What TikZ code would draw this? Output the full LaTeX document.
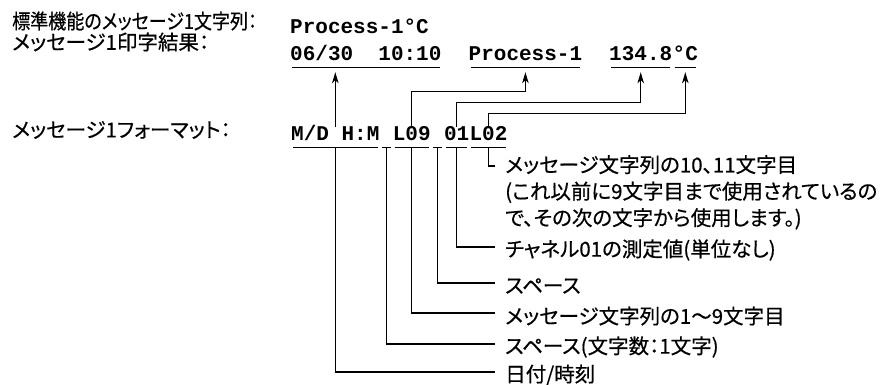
\documentclass[tikz,border=0pt]{standalone}
\usepackage{fontspec}
\setmonofont{Liberation Mono}
\newfontfamily\jpfont[RawFeature=+palt, FakeBold=0.5]{Noto Sans CJK JP}
\usetikzlibrary{arrows.meta, positioning, calc}

\begin{document}
\begin{tikzpicture}[
    x=1pt, y=-1pt,
    jp/.style={font=\jpfont\fontsize{20.5}{26.5}\selectfont, inner sep=0pt, anchor=west, align=left},
    code/.style={font=\ttfamily\bfseries\fontsize{21}{21}\selectfont, inner sep=0pt, anchor=base west, text height=13pt, text depth=7pt},
    uline/.style={line width=1.3pt},
    lnk/.style={line width=1.1pt},
    arr/.style={lnk, -{Stealth[length=11pt, width=6.5pt, inset=3pt]}, shorten >=5pt},
    >=Stealth
]
\useasboundingbox (0,0) rectangle (890,384);

% captions on the left
\node[jp] (ttlstd) at (12,21) {\scalebox{0.88}[1]{標準機能のメッセージ1文字列：}};
\node[jp] (ttlout) at (12,42) {メッセージ1印字結果：};
\node[jp] (ttlfmt) at (12,130) {メッセージ1フォーマット：};

% standard string and printed result
\node[code] (std) at (290,33) {Process-1°C};
\node[code] (date) at (290,60) {06/30~~10:10};
\node[code] (proc) at (468.5,60) {Process-1};
\node[code] (num) at (609,60) {134.8};
\node[code] (degc) at (672.5,60) {°C};

% format string
\node[code] (mdhm) at (291,140) {M/D H:M};
\node[code, right=0pt of mdhm] (spa) {\phantom{0}};
\node[code, right=0pt of spa] (l09) {L09};
\node[code, right=0pt of l09] (spb) {\phantom{0}};
\node[code, right=0pt of spb] (n01) {01};
\node[code, right=0pt of n01] (l02) {L02};

\foreach \n in {date, proc, num, degc, mdhm, spa, l09, spb, n01, l02}
    \draw[uline] ([xshift=2pt]\n.south west) -- ([xshift=-2pt]\n.south east);

% format -> result
\draw[arr] (mdhm.north) -- (mdhm.north |- date.south);
\draw[arr] (l09.north) -- ++(0,-35) -| (proc.south);
\draw[arr] (n01.north) -- ++(0,-24) -| (num.south);
\draw[arr] (l02.north) -- ++(0,-13) -| (degc.south);

% explanations
\node[jp, anchor=north west, inner xsep=10pt] (lnote) at (495,155) {メッセージ文字列の10、11文字目\\(これ以前に9文字目まで使用されているの\\で、その次の文字から使用します。)};
\node[jp, inner xsep=10pt] (lch) at (495,250) {チャネル01の測定値(単位なし)};
\node[jp, inner xsep=10pt] (lspb) at (495,286) {スペース};
\node[jp, inner xsep=10pt] (lmsg) at (495,316) {メッセージ文字列の1～9文字目};
\node[jp, inner xsep=10pt] (lspa) at (495,347) {スペース(文字数：1文字)};
\node[jp, inner xsep=10pt] (ldate) at (495,375) {日付/時刻};

\draw[lnk] (l02.south) |- ([yshift=-11pt]lnote.north west);
\draw[lnk] (n01.south) |- ([yshift=3pt]lch.west);
\draw[lnk] (spb.south) |- ([yshift=3pt]lspb.west);
\draw[lnk] (l09.south) |- ([yshift=3pt]lmsg.west);
\draw[lnk] (spa.south) |- ([yshift=3pt]lspa.west);
\draw[lnk] (mdhm.south) |- ([yshift=3pt]ldate.west);

\end{tikzpicture}
\end{document}
